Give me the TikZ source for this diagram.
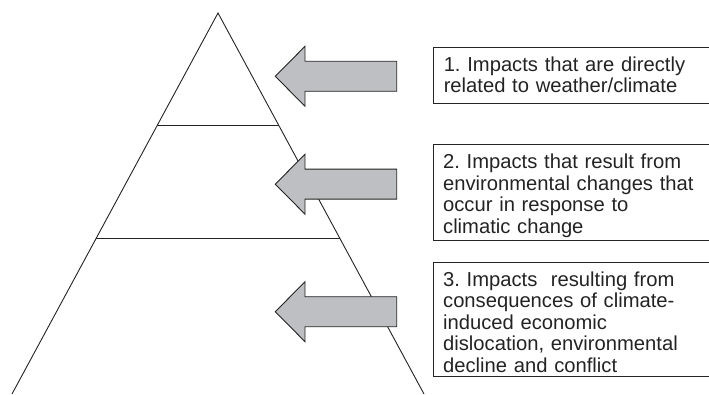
\documentclass[tikz,border=0pt]{standalone}
\usepackage{fontspec}
\setmainfont{Liberation Sans}
\frenchspacing
\usetikzlibrary{calc}
\usetikzlibrary{positioning}
\definecolor{arrowgray}{RGB}{190,191,195}
\definecolor{inkgray}{RGB}{35,35,35}
\newcommand{\drawArrow}[1]{
	\begin{scope}[shift={(#1)}]
		%Block arrow pointing left, tip at the origin
		\filldraw[Arrow] (0,0) -- (29.7,-30) -- (29.7,-15) -- (121.4,-15)
			-- (121.4,15) -- (29.7,15) -- (29.7,30) -- cycle;
	\end{scope}
}

\begin{document}
\begin{tikzpicture}[x=1pt,y=-1pt]
		\tikzstyle{Layer} = [inkgray, line width=0.9pt]
		\tikzstyle{Arrow} = [fill=arrowgray, draw=inkgray, line width=0.9pt, line join=miter]
		\tikzstyle{Box} = [draw=inkgray, line width=0.9pt, anchor=north west, inner xsep=10pt,
			inner ysep=0pt, text width=262pt, align=left, text height=24pt, text=inkgray,
			font=\fontsize{20.2}{21.6}\selectfont]

		\useasboundingbox (0,0) rectangle (709,395);

		%Draw pyramid
		\coordinate (A) at (218,13);
		\coordinate (L) at (12,394);
		\coordinate (R) at (424,394);
		\draw[Layer] (L) -- (A) -- (R);

		%Draw layer lines
		\draw[Layer] ($(A)!0.296!(L)$) -- ($(A)!0.296!(R)$);
		\draw[Layer] ($(A)!0.591!(L)$) -- ($(A)!0.591!(R)$);

		%Draw arrows
		\coordinate (T1) at (275.3,76.3);
		\coordinate (T2) at (275.3,184.2);
		\coordinate (T3) at (275.3,311.7);
		\drawArrow{T1}
		\drawArrow{T2}
		\drawArrow{T3}

		%Labels
		\node[Box, text depth=32pt] (Direct) at (433.3,46.7)
			{1. Impacts that are directly\\related to weather/climate};
		\node[Box, text depth=72pt] (Environ) at (432.7,144)
			{2. Impacts that result from\\environmental changes that\\occur in response to\\climatic change};
		\node[Box, text depth=90pt] (Conseq) at (432.7,261.7)
			{3. Impacts\ \ resulting from\\consequences of climate-\\induced economic\\dislocation, environmental\\decline and conflict};
	\end{tikzpicture}
\end{document}
